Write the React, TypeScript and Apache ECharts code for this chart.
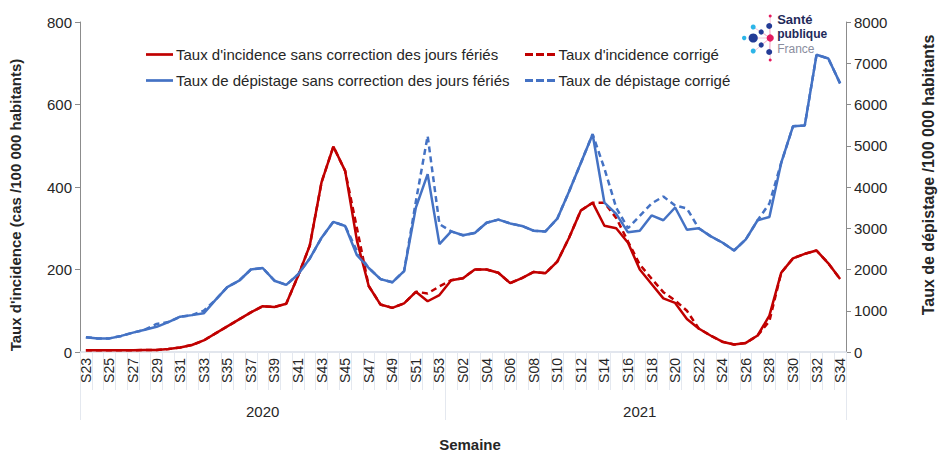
import React, { useEffect, useRef } from "react";
import * as echarts from "echarts";

const weeks2020 = ["S23","S24","S25","S26","S27","S28","S29","S30","S31","S32","S33","S34","S35","S36","S37","S38","S39","S40","S41","S42","S43","S44","S45","S46","S47","S48","S49","S50","S51","S52","S53"];
const weeks2021 = ["S01","S02","S03","S04","S05","S06","S07","S08","S09","S10","S11","S12","S13","S14","S15","S16","S17","S18","S19","S20","S21","S22","S23","S24","S25","S26","S27","S28","S29","S30","S31","S32","S33","S34"];
const years = ["2020", "2021"];
const weeks = [...weeks2020, ...weeks2021];

const incidence = [4,4,4,4,4,5,5,7,11,17,28,45,62,79,96,111,109,117,184,258,412,498,439,270,160,115,107,118,146,123,138,
  174,179,200,200,192,167,179,194,191,219,277,343,362,306,300,265,200,165,130,119,80,57,40,25,18,22,40,88,192,227,238,246,215,177];
const incidenceCorr = [4,4,4,4,4,5,5,7,11,17,28,45,62,79,96,111,109,117,184,258,412,498,439,300,160,115,107,118,146,142,159,
  174,179,200,200,192,167,179,194,191,219,277,343,362,362,325,268,212,178,145,125,100,57,40,25,18,22,40,75,192,227,238,246,215,177];
const depistage = [360,330,330,390,470,540,610,725,856,894,937,1265,1574,1728,2000,2037,1728,1628,1880,2268,2770,3156,3055,2346,2037,1767,1690,1960,3500,4313,2616,
  2924,2830,2886,3133,3210,3117,3056,2940,2924,3233,3889,4583,5278,3619,3349,2901,2940,3310,3194,3503,2963,3001,2809,2654,2461,2731,3194,3271,4583,5471,5490,7207,7114,6512];
const depistageCorr = [360,330,330,390,470,540,680,725,856,894,1000,1265,1574,1728,2000,2037,1728,1628,1880,2268,2770,3156,3055,2450,2037,1767,1690,1960,3650,5239,3100,
  2924,2830,2886,3133,3210,3117,3056,2940,2924,3233,3889,4583,5278,4450,3500,3000,3300,3600,3770,3550,3480,3001,2809,2654,2461,2731,3194,3600,4583,5471,5490,7207,7114,6512];

const nameInc = "Taux d'incidence sans correction des jours fériés";
const nameIncCorr = "Taux d'incidence corrigé";
const nameDep = "Taux de dépistage sans correction des jours fériés";
const nameDepCorr = "Taux de dépistage corrigé";

const RED = "#C00000";
const BLUE = "#4472C4";
const TXT = "#262626";
const FONT = "'Liberation Sans', Arial, sans-serif";
const SOLID_ICON = "path://M0,0h30v3h-30z";
const DASH_ICON = "path://M0,0h8v3h-8z M11,0h8v3h-8z M22,0h8v3h-8z";

export default function App() {
  const ref = useRef<HTMLDivElement>(null);
  useEffect(() => {
    if (!ref.current) return;
    const chart = echarts.init(ref.current, undefined, { renderer: "svg" });
    const n2020 = weeks2020.length;
    const mid2020 = Math.floor((n2020 - 1) / 2);
    const mid2021 = n2020 + Math.floor((weeks2021.length - 1) / 2);
    const dot = (x: number, y: number, r: number, c: string) => ({ type: "circle", shape: { cx: x, cy: y, r }, style: { fill: c } });
    const ln = (x1: number, y1: number, x2: number, y2: number) => ({ type: "line", shape: { x1, y1, x2, y2 }, style: { stroke: "#F4B6CF", lineWidth: 0.8 } });
    chart.setOption({
      animation: false,
      textStyle: { fontFamily: FONT },
      grid: { left: 77, right: 86, top: 22, bottom: 89 },
      legend: [
        {
          data: [{ name: nameInc, icon: SOLID_ICON }, { name: nameDep, icon: SOLID_ICON }],
          orient: "vertical", left: 141, top: 42, itemWidth: 27, itemHeight: 3, itemGap: 11,
          selectedMode: false, textStyle: { fontSize: 15, color: TXT, fontFamily: FONT, padding: [0, 0, 0, -2] },
        },
        {
          data: [{ name: nameIncCorr, icon: DASH_ICON }, { name: nameDepCorr, icon: DASH_ICON }],
          orient: "vertical", left: 520, top: 42, itemWidth: 31, itemHeight: 3, itemGap: 11,
          selectedMode: false, textStyle: { fontSize: 15, color: TXT, fontFamily: FONT, padding: [0, 0, 0, -2] },
        },
      ],
      xAxis: [
        {
          type: "category", data: weeks, boundaryGap: true,
          axisLine: { lineStyle: { color: "#D9DEE8", width: 1.5 } },
          axisTick: { show: true, interval: 0, length: 38, lineStyle: { color: "#E4E8EF" } },
          axisLabel: { interval: 1, rotate: 90, fontSize: 14, color: TXT, margin: 6, fontFamily: FONT },
        },
        {
          type: "category", data: weeks, boundaryGap: true, position: "bottom",
          axisLine: { show: false },
          axisTick: { show: true, length: 68, interval: (i: number) => i === 0 || i === n2020, lineStyle: { color: "#E4E8EF" } },
          axisLabel: {
            interval: (i: number) => i === mid2020 || i === mid2021,
            formatter: (_v: string, i: number) => (i < n2020 ? years[0] : years[1]),
            margin: 52, fontSize: 15, color: TXT, fontFamily: FONT,
          },
          name: "Semaine", nameLocation: "middle", nameGap: 85,
          nameTextStyle: { fontWeight: "bold", fontSize: 15, color: TXT, fontFamily: FONT, padding: [0, 0, 0, 14] },
        },
      ],
      yAxis: [
        {
          type: "value", min: 0, max: 800, interval: 200, position: "left",
          axisLine: { show: true, lineStyle: { color: "#8C8C8C" } },
          axisTick: { show: true, length: 5, lineStyle: { color: "#8C8C8C" } },
          splitLine: { show: false },
          axisLabel: { fontSize: 15, color: TXT, margin: 8, fontFamily: FONT },
          name: "Taux d'incidence (cas /100 000 habitants)", nameLocation: "middle", nameGap: 57,
          nameTextStyle: { fontWeight: "bold", fontSize: 15, color: TXT, fontFamily: FONT, padding: [0, 36, 0, 0] },
        },
        {
          type: "value", min: 0, max: 8000, interval: 1000, position: "right",
          axisLine: { show: true, lineStyle: { color: "#8C8C8C" } },
          axisTick: { show: true, length: 5, lineStyle: { color: "#8C8C8C" } },
          splitLine: { show: false },
          axisLabel: { fontSize: 15, color: TXT, margin: 8, fontFamily: FONT, formatter: (v: number) => String(v) },
          name: "Taux de dépistage /100 000 habitants", nameLocation: "middle", nameGap: 74,
          nameTextStyle: { fontWeight: "bold", fontSize: 16, color: TXT, fontFamily: FONT, padding: [0, 0, 0, 24] },
        },
      ],
      series: [
        { name: nameIncCorr, type: "line", yAxisIndex: 0, data: incidenceCorr, symbol: "none", z: 2,
          lineStyle: { color: RED, width: 2.5, type: [6, 4] }, itemStyle: { color: RED } },
        { name: nameDepCorr, type: "line", yAxisIndex: 1, data: depistageCorr, symbol: "none", z: 2,
          lineStyle: { color: BLUE, width: 2.5, type: [6, 4] }, itemStyle: { color: BLUE } },
        { name: nameInc, type: "line", yAxisIndex: 0, data: incidence, symbol: "none", z: 3,
          lineStyle: { color: RED, width: 2.5 }, itemStyle: { color: RED } },
        { name: nameDep, type: "line", yAxisIndex: 1, data: depistage, symbol: "none", z: 3,
          lineStyle: { color: BLUE, width: 2.5 }, itemStyle: { color: BLUE } },
      ],
      graphic: [
        {
          type: "group", left: 742, top: 13,
          children: [
            ln(29, 25, 29, 4), ln(29, 25, 28, 13), ln(29, 25, 20, 19), ln(29, 25, 12, 14), ln(29, 25, 10, 25),
            ln(29, 25, 20, 32), ln(29, 25, 12, 39), ln(29, 25, 28, 39), ln(29, 25, 29, 47),
            dot(29, 3, 1.5, "#E5195E"),
            dot(28, 13, 3, "#233C96"),
            dot(12, 14, 2.5, "#2CB5E8"),
            dot(20, 19, 2.6, "#233C96"),
            dot(3, 25, 2.2, "#2CB5E8"),
            dot(12, 25, 4.6, "#233C96"),
            dot(29, 25, 3.6, "#E5195E"),
            dot(20, 32, 2.6, "#233C96"),
            dot(12, 38, 2.5, "#2CB5E8"),
            dot(28, 39, 3, "#233C96"),
            dot(29, 47, 1.5, "#E5195E"),
            { type: "text", left: 36, top: 0, style: { text: "Santé", fill: "#1F2A5A", font: "bold 13px 'Liberation Sans', Arial" } },
            { type: "text", left: 36, top: 15, style: { text: "publique", fill: "#1F2A5A", font: "bold 12px 'Liberation Sans', Arial" } },
            { type: "text", left: 36, top: 30, style: { text: "France", fill: "#8A8D9E", font: "12px 'Liberation Sans', Arial" } },
          ],
        },
      ],
    });
    return () => chart.dispose();
  }, []);
  return <div ref={ref} style={{ position: "fixed", left: 0, top: 0, width: 944, height: 457, background: "#fff" }} />;
}
